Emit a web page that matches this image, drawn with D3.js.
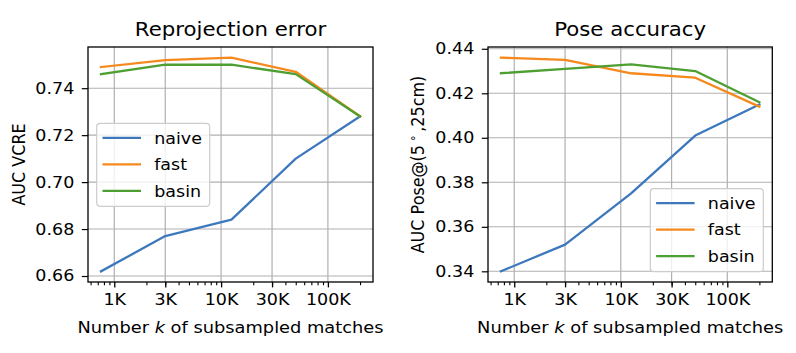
<!DOCTYPE html>
<html>
<head>
<meta charset="utf-8">
<script src="https://cdn.jsdelivr.net/npm/d3@7"></script>
<style>
  html, body { margin: 0; padding: 0; background: #fff; }
  svg { display: block; }
  text { font-family: "DejaVu Sans", sans-serif; fill: #000; }
</style>
</head>
<body>
<div id="chart"></div>
<script>
// ---- data ----
const matches = [750, 3000, 12500, 50000, 200000];
const xTickValues = [1000, 3000, 10000, 30000, 100000];
const xTickLabels = ["1K", "3K", "10K", "30K", "100K"];
const seriesNames = ["naive", "fast", "basin"];
const seriesColors = ["#3d78bd", "#f5891e", "#4e9f32"];

const vcreNaive = [0.662, 0.677, 0.684, 0.710, 0.728];
const vcreFast  = [0.749, 0.752, 0.753, 0.747, 0.728];
const vcreBasin = [0.746, 0.750, 0.750, 0.746, 0.728];
const vcreTicks = [0.66, 0.68, 0.70, 0.72, 0.74];

const poseNaive = [0.340, 0.352, 0.375, 0.401, 0.415];
const poseFast  = [0.436, 0.435, 0.429, 0.427, 0.414];
const poseBasin = [0.429, 0.431, 0.433, 0.430, 0.416];
const poseTicks = [0.34, 0.36, 0.38, 0.40, 0.42, 0.44];

const W = 796, H = 353;
const svg = d3.select("#chart").append("svg").attr("width", W).attr("height", H);

const FS = 15.5, SX = 1.13;      // body text size and horizontal stretch
const TFS = 19, TSX = 1.12;      // title

// place a text with horizontal stretch, anchored at (x, y)
function stretchedText(parent, x, y, size, sx, anchor) {
  return parent.append("g").attr("transform", `translate(${x},${y}) scale(${sx},1)`)
    .append("text").attr("x", 0).attr("y", 0).attr("text-anchor", anchor).attr("font-size", size);
}

function drawPanel(opt) {
  const {x0, x1, y0, y1, series, yTicks, title, ylabel, legendPos} = opt;
  const g = svg.append("g");
  const lo = Math.log10(d3.min(matches)), hi = Math.log10(d3.max(matches));
  const mx = 0.05 * (hi - lo);
  const x = d3.scaleLog().domain([Math.pow(10, lo - mx), Math.pow(10, hi + mx)]).range([x0, x1]);
  const all = series.flat();
  const ymin = d3.min(all), ymax = d3.max(all), my = 0.05 * (ymax - ymin);
  const y = d3.scaleLinear().domain([ymin - my, ymax + my]).range([y1, y0]);

  // grid
  g.append("g").selectAll("line").data(xTickValues).join("line")
    .attr("x1", d => x(d)).attr("x2", d => x(d)).attr("y1", y0).attr("y2", y1)
    .attr("stroke", "#b0b0b0").attr("stroke-width", 1.2);
  g.append("g").selectAll("line").data(yTicks).join("line")
    .attr("y1", d => y(d)).attr("y2", d => y(d)).attr("x1", x0).attr("x2", x1)
    .attr("stroke", "#b0b0b0").attr("stroke-width", 1.1);

  // lines
  const line = d3.line().x((d, i) => x(matches[i])).y(d => y(d));
  series.forEach((s, i) => {
    g.append("path").datum(s).attr("d", line)
      .attr("fill", "none").attr("stroke", seriesColors[i])
      .attr("stroke-width", 2.3).attr("stroke-linejoin", "round").attr("stroke-linecap", "square");
  });

  // x axis minor ticks
  const [dlo, dhi] = x.domain();
  const minor = [];
  for (let e = 2; e <= 6; e++) for (let k = 2; k <= 9; k++) {
    const v = k * Math.pow(10, e);
    if (v >= dlo && v <= dhi) minor.push(v);
  }
  const gm = g.append("g").attr("transform", `translate(0,${y1})`)
    .call(d3.axisBottom(x).tickValues(minor).tickSize(3.2).tickFormat(""));
  gm.select(".domain").remove();
  gm.selectAll("line").attr("stroke-width", 1.1);

  // x axis major
  const gx = g.append("g").attr("transform", `translate(0,${y1})`)
    .call(d3.axisBottom(x).tickValues(xTickValues).tickSize(5.4).tickPadding(7)
      .tickFormat((d, i) => xTickLabels[i]));
  gx.select(".domain").remove();
  gx.selectAll("line").attr("stroke-width", 1.3);
  gx.selectAll("text").attr("font-size", FS).attr("font-family", "DejaVu Sans")
    .attr("transform", `scale(${SX},1)`);

  // y axis
  const gy = g.append("g").attr("transform", `translate(${x0},0)`)
    .call(d3.axisLeft(y).tickValues(yTicks).tickSize(6.2).tickPadding(7.5)
      .tickFormat(d3.format(".2f")));
  gy.select(".domain").remove();
  gy.selectAll("line").attr("stroke-width", 1.2);
  gy.selectAll("text").attr("font-size", FS).attr("font-family", "DejaVu Sans")
    .attr("x", -(6.2 + 7.5) / SX).attr("transform", `scale(${SX},1)`);

  // frame
  g.append("rect").attr("x", x0).attr("y", y0).attr("width", x1 - x0).attr("height", y1 - y0)
    .attr("fill", "none").attr("stroke", "#000").attr("stroke-width", 1.3);

  // title
  stretchedText(g, (x0 + x1) / 2, 36, TFS, TSX, "middle").text(title);

  // x label
  const xl = stretchedText(g, (x0 + x1) / 2, 333, FS, 1.15, "middle");
  xl.append("tspan").text("Number ");
  xl.append("tspan").attr("font-style", "italic").text("k");
  xl.append("tspan").text(" of subsampled matches");

  // y label
  const yl = g.append("g")
    .attr("transform", `translate(${ylabel.x},${(y0 + y1) / 2}) scale(${SX},1) rotate(-90)`)
    .append("text").attr("text-anchor", "middle").attr("font-size", 16);
  ylabel.parts.forEach(p => {
    const t = yl.append("tspan").text(p.t);
    if (p.sup) t.attr("font-size", 11).attr("dy", -6);
    if (p.after) t.attr("dy", 6);
  });

  // legend
  const lw = 113, lh = 83;
  const lx = legendPos.left != null ? x0 + legendPos.left : x1 - legendPos.right - lw;
  const ly = legendPos.top != null ? y0 + legendPos.top : y1 - legendPos.bottom - lh;
  const lg = g.append("g").attr("transform", `translate(${lx},${ly})`);
  lg.append("rect").attr("x", 0).attr("y", 0).attr("width", lw).attr("height", lh)
    .attr("rx", 3.5).attr("fill", "#fff").attr("fill-opacity", 0.8)
    .attr("stroke", "#cccccc").attr("stroke-width", 1.2);
  seriesNames.forEach((n, i) => {
    const yy = 14.5 + i * 26.5;
    lg.append("line").attr("x1", 5.8).attr("x2", 44.3).attr("y1", yy).attr("y2", yy)
      .attr("stroke", seriesColors[i]).attr("stroke-width", 2.3);
    stretchedText(lg, 57.5, yy + 5.7, FS, SX, "start").text(n);
  });
}

drawPanel({
  x0: 88, x1: 373, y0: 47, y1: 282,
  series: [vcreNaive, vcreFast, vcreBasin],
  yTicks: vcreTicks,
  title: "Reprojection error",
  ylabel: { x: 24.5, parts: [{ t: "AUC VCRE" }] },
  legendPos: { left: 8.7, top: 76.3 }
});

drawPanel({
  x0: 488, x1: 772.3, y0: 47, y1: 282,
  series: [poseNaive, poseFast, poseBasin],
  yTicks: poseTicks,
  title: "Pose accuracy",
  ylabel: { x: 423.5, parts: [{ t: "AUC Pose@(5\u2009" }, { t: "\u2218", sup: true }, { t: "\u2009,25cm)", after: true }] },
  legendPos: { right: 9, bottom: 10.3 }
});
</script>
</body>
</html>
